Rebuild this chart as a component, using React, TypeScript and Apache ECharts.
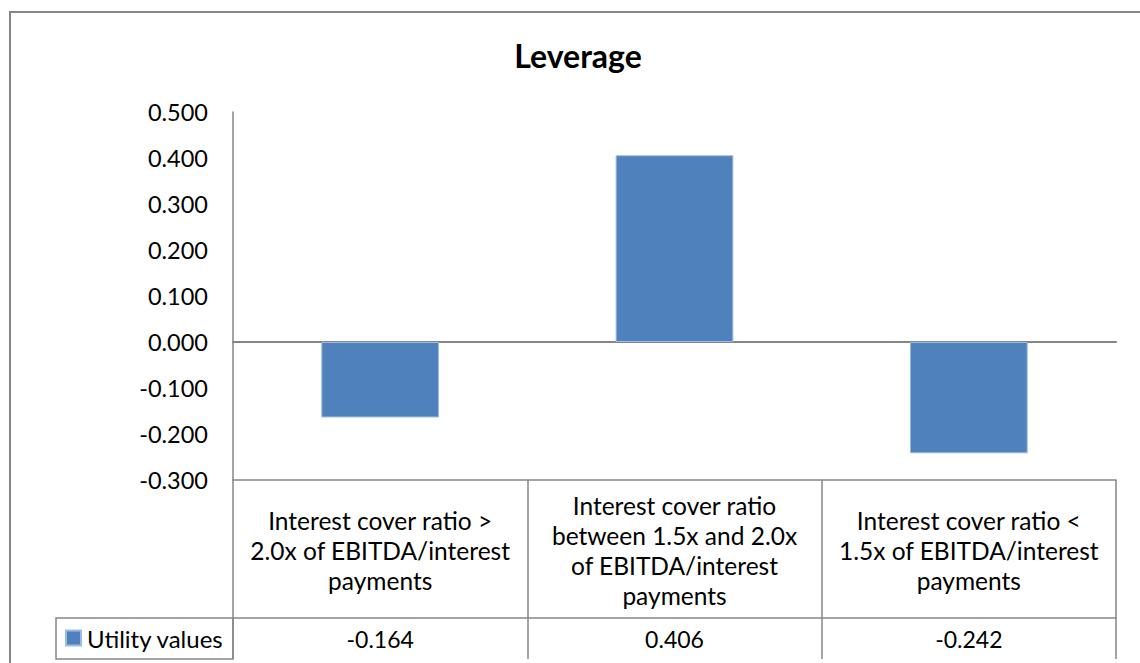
import React, { useEffect, useRef } from "react";
import * as echarts from "echarts";

const chartTitle = "Leverage";
const seriesName = "Utility values";
const categories = [
  "Interest cover ratio >\n2.0x of EBITDA/interest\npayments",
  "Interest cover ratio\nbetween 1.5x and 2.0x\nof EBITDA/interest\npayments",
  "Interest cover ratio <\n1.5x of EBITDA/interest\npayments",
];
const values = [-0.164, 0.406, -0.242];
const yMin = -0.3;
const yMax = 0.5;
const yInterval = 0.1;

const FONT = "Lato";
const GRAY = "#868686";

export default function App() {
  const ref = useRef<HTMLDivElement>(null);
  useEffect(() => {
    if (!ref.current) return;
    const chart = echarts.init(ref.current, undefined, { renderer: "svg" });
    const fmt = (v: number) => (Math.abs(v) < 1e-9 ? 0 : v).toFixed(3);
    chart.setOption({
      animation: false,
      backgroundColor: "#ffffff",
      textStyle: { fontFamily: FONT },
      title: {
        text: chartTitle,
        left: 578,
        top: 39,
        textAlign: "center",
        padding: 0,
        textStyle: { fontFamily: FONT, fontWeight: "bold", fontSize: 32, color: "#000" },
      },
      legend: {
        show: true,
        left: 65,
        top: 626,
        padding: 0,
        icon: "rect",
        itemWidth: 15,
        itemHeight: 15,
        data: [seriesName],
        textStyle: { fontFamily: FONT, fontSize: 24, color: "#000", padding: [0, 0, 0, 1] },
      },
      grid: { left: 233, right: 24, top: 112, bottom: 183, containLabel: false },
      xAxis: [
        {
          type: "category",
          data: categories,
          axisLine: { onZero: true, lineStyle: { color: GRAY, width: 2 } },
          axisTick: { show: false },
          axisLabel: { show: false },
        },
        {
          type: "category",
          data: categories,
          position: "bottom",
          offset: 0,
          axisLine: { onZero: false, show: true, lineStyle: { color: GRAY, width: 1.5 } },
          axisTick: { show: true, length: 138, lineStyle: { color: GRAY, width: 1.5 } },
          axisLabel: {
            show: true,
            interval: 0,
            margin: 70,
            verticalAlign: "middle",
            align: "center",
            lineHeight: 30,
            fontFamily: FONT,
            fontSize: 24.5,
            color: "#000",
          },
        },
        {
          type: "category",
          data: values.map((v) => fmt(v)),
          position: "bottom",
          offset: 138,
          axisLine: { onZero: false, show: true, lineStyle: { color: GRAY, width: 1.5 } },
          axisTick: { show: true, length: 41, lineStyle: { color: GRAY, width: 1.5 } },
          axisLabel: {
            show: true,
            interval: 0,
            margin: 21,
            verticalAlign: "middle",
            align: "center",
            fontFamily: FONT,
            fontSize: 23,
            color: "#000",
          },
        },
      ],
      yAxis: {
        type: "value",
        min: yMin,
        max: yMax,
        interval: yInterval,
        axisLine: { show: true, lineStyle: { color: GRAY, width: 1.5 } },
        axisTick: { show: false },
        splitLine: { show: false },
        axisLabel: {
          margin: 25,
          fontFamily: FONT,
          fontSize: 23.5,
          color: "#000",
          formatter: (v: number) => fmt(v),
        },
      },
      series: [
        {
          name: seriesName,
          type: "bar",
          xAxisIndex: 0,
          data: values,
          barWidth: "40%",
          itemStyle: { color: "#4F81BD", borderColor: "#9DBCE4", borderWidth: 1 },
        },
      ],
      graphic: [
        {
          type: "rect",
          shape: { x: 10, y: 12, width: 1300, height: 800 },
          style: { fill: "none", stroke: GRAY, lineWidth: 2 },
          z: 100,
        },
        {
          type: "rect",
          shape: { x: 56, y: 618, width: 177, height: 41 },
          style: { fill: "none", stroke: GRAY, lineWidth: 1.5 },
          z: 100,
        },
      ],
    });
    return () => chart.dispose();
  }, []);
  return (
    <div
      ref={ref}
      style={{ position: "absolute", left: 0, top: 0, width: 1140, height: 663 }}
    />
  );
}
